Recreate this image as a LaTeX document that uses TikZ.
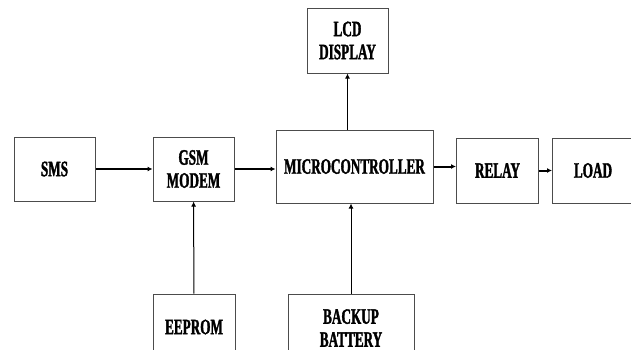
\documentclass[tikz,border=0pt]{standalone}
\usepackage{fontspec}
\setmainfont{Liberation Serif}[
  FakeStretch=0.6,
  BoldFont={Liberation Serif Bold},
  BoldFeatures={FakeStretch=0.6, FakeBold=1.5}]
\usetikzlibrary{arrows.meta}

\tikzset{
  bloque/.style={draw=black!70, line width=0.5pt, inner sep=0pt,
    align=center, font=\fontsize{11}{11.5}\selectfont\bfseries},
  flecha/.style={-{Latex[length=2.5pt,width=2.5pt]}, line width=0.5pt},
  flechagruesa/.style={flecha, line width=1pt}
}

\begin{document}
\begin{tikzpicture}[x=0.5pt,y=-0.5pt]

  % Marco
  \useasboundingbox (0,0) rectangle (631,349);
  \clip (0,0) rectangle (631,349);

  % Bloques
  \node[bloque, minimum width=40.5pt, minimum height=32pt]
    (sms) at (54.5,169) {SMS};

  \node[bloque, minimum width=40.5pt, minimum height=32pt]
    (gsm) at (193.5,169) {GSM\\MODEM};

  \node[bloque, minimum width=78.5pt, minimum height=36.5pt]
    (mcu) at (354.5,166.5) {MICROCONTROLLER};

  \node[bloque, minimum width=40.5pt, minimum height=32.5pt]
    (lcd) at (347.5,40.5) {LCD\\DISPLAY};

  \node[bloque, minimum width=41pt, minimum height=32.5pt]
    (relay) at (497.5,170.5) {RELAY};

  \node[bloque, minimum width=40.5pt, minimum height=32.5pt]
    (load) at (593,170.5) {LOAD};

  \node[bloque, minimum width=41pt, minimum height=33pt]
    (eeprom) at (194,327) {EEPROM};

  \node[bloque, minimum width=63pt, minimum height=34pt]
    (backup) at (351,328) {BACKUP\\BATTERY};

  % Flechas horizontales
  \draw[flechagruesa] (sms) -- (gsm);
  \draw[flechagruesa] (gsm.east) -- (gsm.east -| mcu.west);
  \draw[flechagruesa] (mcu.east) -- (mcu.east -| relay.west);
  \draw[flechagruesa] (relay) -- (load);

  % Flechas verticales
  \draw[flecha] (mcu.north -| lcd.south) -- (lcd.south);
  \draw[flecha] (backup.north) -- (backup.north |- mcu.south);
  \draw[flecha] (eeprom) -- (gsm);

\end{tikzpicture}
\end{document}
